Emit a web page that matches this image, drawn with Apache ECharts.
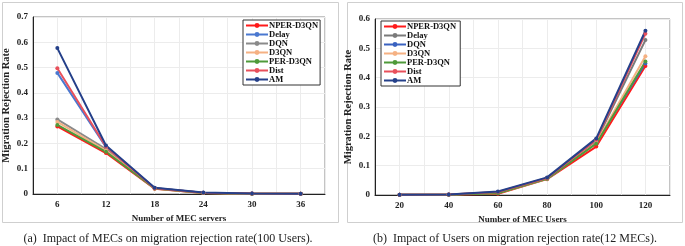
<!DOCTYPE html>
<html>
<head>
<meta charset="utf-8">
<script src="https://cdn.jsdelivr.net/npm/echarts@6/dist/echarts.min.js"></script>
<style>
  html, body { margin: 0; padding: 0; background: #fff; }
  #chart { width: 685px; height: 246px; }
</style>
</head>
<body>
<div id="chart"></div>
<script>
// data
var names = ['NPER-D3QN', 'Delay', 'DQN', 'D3QN', 'PER-D3QN', 'Dist', 'AM'];
var mecServers = [6, 12, 18, 24, 30, 36];
var mecUsers = [20, 40, 60, 80, 100, 120];

var leftNper  = [0.267, 0.162, 0.021, 0.004, 0.001, 0.001];
var leftDelay = [0.479, 0.185, 0.024, 0.005, 0.002, 0.001];
var leftDqn   = [0.295, 0.178, 0.023, 0.005, 0.002, 0.001];
var leftD3qn  = [0.285, 0.172, 0.022, 0.004, 0.001, 0.001];
var leftPer   = [0.273, 0.167, 0.022, 0.004, 0.001, 0.001];
var leftDist  = [0.497, 0.187, 0.023, 0.005, 0.002, 0.001];
var leftAm    = [0.577, 0.192, 0.025, 0.006, 0.002, 0.001];

var rightNper  = [0.001, 0.001, 0.004, 0.054, 0.165, 0.440];
var rightDelay = [0.001, 0.002, 0.009, 0.057, 0.185, 0.528];
var rightDqn   = [0.001, 0.002, 0.008, 0.056, 0.180, 0.448];
var rightD3qn  = [0.001, 0.002, 0.007, 0.055, 0.178, 0.473];
var rightPer   = [0.001, 0.001, 0.006, 0.055, 0.175, 0.455];
var rightDist  = [0.001, 0.002, 0.010, 0.058, 0.188, 0.550];
var rightAm    = [0.001, 0.002, 0.012, 0.060, 0.193, 0.560];

var leftColors  = ['#ff1a1a', '#4a78d0', '#8a8a8a', '#f5b183', '#4f9a3a', '#e8505b', '#25408a'];
var rightColors = ['#ff1a1a', '#7a7a7a', '#3a62c0', '#f5b183', '#4f9a3a', '#e8505b', '#25408a'];

var leftData = [leftNper, leftDelay, leftDqn, leftD3qn, leftPer, leftDist, leftAm];
var rightData = [rightNper, rightDelay, rightDqn, rightD3qn, rightPer, rightDist, rightAm];

var serif = '"Liberation Serif", "DejaVu Serif", serif';
var chart = echarts.init(document.getElementById('chart'));

function pairs(xs, ys) {
	var out = [];
	for (var i = 0; i < xs.length; i++) out.push([xs[i], ys[i]]);
	return out;
}

var series = [];
for (var i = 0; i < names.length; i++) {
	series.push({
		name: names[i], type: 'line', xAxisIndex: 0, yAxisIndex: 0,
		data: pairs(mecServers, leftData[i]),
		symbol: 'circle', symbolSize: 4,
		lineStyle: { width: 2, color: leftColors[i] },
		itemStyle: { color: leftColors[i] }
	});
}
for (var j = 0; j < names.length; j++) {
	series.push({
		name: names[j] + ' ', type: 'line', xAxisIndex: 1, yAxisIndex: 1,
		data: pairs(mecUsers, rightData[j]),
		symbol: 'circle', symbolSize: 4,
		lineStyle: { width: 2, color: rightColors[j] },
		itemStyle: { color: rightColors[j] }
	});
}

var axisLbl = { fontFamily: serif, fontWeight: 'bold', fontSize: 9, color: '#222' };
var axisNm = { fontFamily: serif, fontWeight: 'bold', fontSize: 9, color: '#222' };
var yNm = { fontFamily: serif, fontWeight: 'bold', fontSize: 10.5, color: '#222' };
var capStyle = { fontFamily: serif, fontWeight: 'normal', fontSize: 12, color: '#222' };

function legendOf(list, left, top) {
	return {
		data: list, orient: 'vertical', left: left, top: top,
		itemWidth: 22, itemHeight: 6, itemGap: 0,
		padding: [1, 2, 1, 2],
		borderColor: '#333', borderWidth: 1, backgroundColor: '#fff',
		textStyle: { fontFamily: serif, fontWeight: 'bold', fontSize: 8.5, lineHeight: 8.9, color: '#111', padding: [0, 0, 0, -4] }
	};
}

var option = {
	animation: false,
	title: [
		{ text: '(a)  Impact of MECs on migration rejection rate(100 Users).', left: 168, top: 233, padding: 0,
		  textAlign: 'center', textStyle: capStyle },
		{ text: '(b)  Impact of Users on migration rejection rate(12 MECs).', left: 515, top: 233, padding: 0,
		  textAlign: 'center', textStyle: capStyle }
	],
	graphic: [
		{ type: 'rect', shape: { x: 2.5, y: 2.5, width: 336, height: 220 }, style: { fill: 'none', stroke: '#cfcfcf', lineWidth: 1 } },
		{ type: 'rect', shape: { x: 347.5, y: 2.5, width: 335, height: 220 }, style: { fill: 'none', stroke: '#cfcfcf', lineWidth: 1 } }
	],
	legend: [
		legendOf(names, 243, 20),
		legendOf(names.map(function (n) { return n + ' '; }), 381, 21)
	],
	grid: [
		{ left: 30, right: 360, top: 17, bottom: 52, show: true, borderColor: '#888', borderWidth: 1 },
		{ left: 375, right: 15, top: 19, bottom: 51, show: true, borderColor: '#888', borderWidth: 1 }
	],
	xAxis: [
		{
			type: 'value', gridIndex: 0, min: 3, max: 39, interval: 3,
			name: 'Number of MEC servers', nameLocation: 'middle', nameGap: 16, nameTextStyle: axisNm,
			axisLine: { lineStyle: { color: '#222', width: 1 } }, axisTick: { show: false },
			axisLabel: Object.assign({ margin: 6, formatter: function (v) { return v % 6 === 0 ? v : ''; } }, axisLbl),
			splitLine: { lineStyle: { color: '#ececec' } }
		},
		{
			type: 'value', gridIndex: 1, min: 10, max: 130, interval: 10,
			name: 'Number of MEC Users', nameLocation: 'middle', nameGap: 16, nameTextStyle: axisNm,
			axisLine: { lineStyle: { color: '#222', width: 1 } }, axisTick: { show: false },
			axisLabel: Object.assign({ margin: 6, formatter: function (v) { return (v % 20 === 0 && v >= 20 && v <= 120) ? v : ''; } }, axisLbl),
			splitLine: { lineStyle: { color: '#ececec' } }
		}
	],
	yAxis: [
		{
			type: 'value', gridIndex: 0, min: 0, max: 0.7, interval: 0.1,
			name: 'Migration Rejection Rate', nameLocation: 'middle', nameGap: 21, nameTextStyle: yNm,
			axisLine: { show: true, lineStyle: { color: '#222', width: 1 } }, axisTick: { show: false },
			axisLabel: Object.assign({ margin: 5 }, axisLbl),
			splitLine: { lineStyle: { color: '#ececec' } }
		},
		{
			type: 'value', gridIndex: 1, min: 0, max: 0.6, interval: 0.1,
			name: 'Migration Rejection Rate', nameLocation: 'middle', nameGap: 21, nameTextStyle: yNm,
			axisLine: { show: true, lineStyle: { color: '#222', width: 1 } }, axisTick: { show: false },
			axisLabel: Object.assign({ margin: 5 }, axisLbl),
			splitLine: { lineStyle: { color: '#ececec' } }
		}
	],
	series: series
};
chart.setOption(option);
</script>
</body>
</html>
